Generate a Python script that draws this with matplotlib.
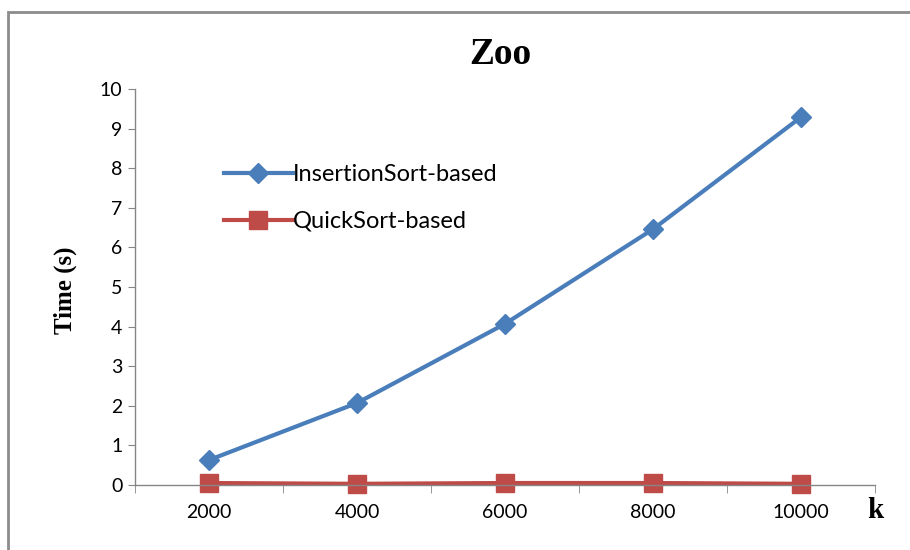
import matplotlib.pyplot as plt
from matplotlib.patches import Rectangle

# Datos
k_labels = ['2000', '4000', '6000', '8000', '10000']
insertion_times = [0.63, 2.07, 4.07, 6.46, 9.29]
quick_times = [0.05, 0.03, 0.05, 0.05, 0.03]

blue = '#4A7EBB'
red = '#BE4B48'
tick_font = 'Lato'
serif = 'Liberation Serif'

fig = plt.figure(figsize=(9.1, 5.5), dpi=100)
# marco gris alrededor del gráfico
fig.patches.append(Rectangle((8 / 910, -0.05), 1.1, (550 - 12) / 550 + 0.05,
                             transform=fig.transFigure, fill=False,
                             edgecolor='#8C8C8C', linewidth=2))

ax = fig.add_axes([135 / 910, 65 / 550, 740 / 910, 396 / 550])
x = range(len(k_labels))

ax.plot(x, insertion_times, color=blue, linewidth=3, marker='D',
        markersize=10, label='InsertionSort-based')
ax.plot(x, quick_times, color=red, linewidth=3, marker='s',
        markersize=13, label='QuickSort-based')

ax.set_xlim(-0.5, len(k_labels) - 0.5)
ax.set_ylim(0, 10)
ax.set_yticks(range(0, 11))
ax.set_xticks(list(x))
ax.set_xticklabels(k_labels)
ax.set_xticks([i - 0.5 for i in range(len(k_labels) + 1)], minor=True)
ax.tick_params(axis='x', which='major', length=0, pad=14, labelsize=14)
ax.tick_params(axis='x', which='minor', length=6, color='#868686', direction='out')
ax.tick_params(axis='y', length=5, color='#868686', labelsize=14, pad=4)
for lab in ax.get_xticklabels() + ax.get_yticklabels():
    lab.set_family(tick_font)

for side in ['top', 'right']:
    ax.spines[side].set_visible(False)
for side in ['left', 'bottom']:
    ax.spines[side].set_color('#868686')
    ax.spines[side].set_linewidth(1)
for line in ax.lines:
    line.set_clip_on(False)

fig.text(0.5 * (135 + 875) / 910 - 0.005, (550 - 55) / 550, 'Zoo', ha='center', va='center',
         family=serif, fontweight='bold', fontsize=27)
fig.text(65 / 910, (550 - 290) / 550, 'Time (s)', rotation=90, ha='center', va='center',
         family=serif, fontweight='bold', fontsize=18)
fig.text(875 / 910, (550 - 510) / 550, 'k', ha='center', va='center',
         family=serif, fontweight='bold', fontsize=21)

leg = fig.legend(loc='upper left', bbox_to_anchor=(203 / 910, (550 - 143) / 550),
                 frameon=False, handlelength=2.9, handletextpad=0.0,
                 labelspacing=1.09, prop={'family': tick_font, 'size': 17})

plt.savefig('out.png', dpi=100)
